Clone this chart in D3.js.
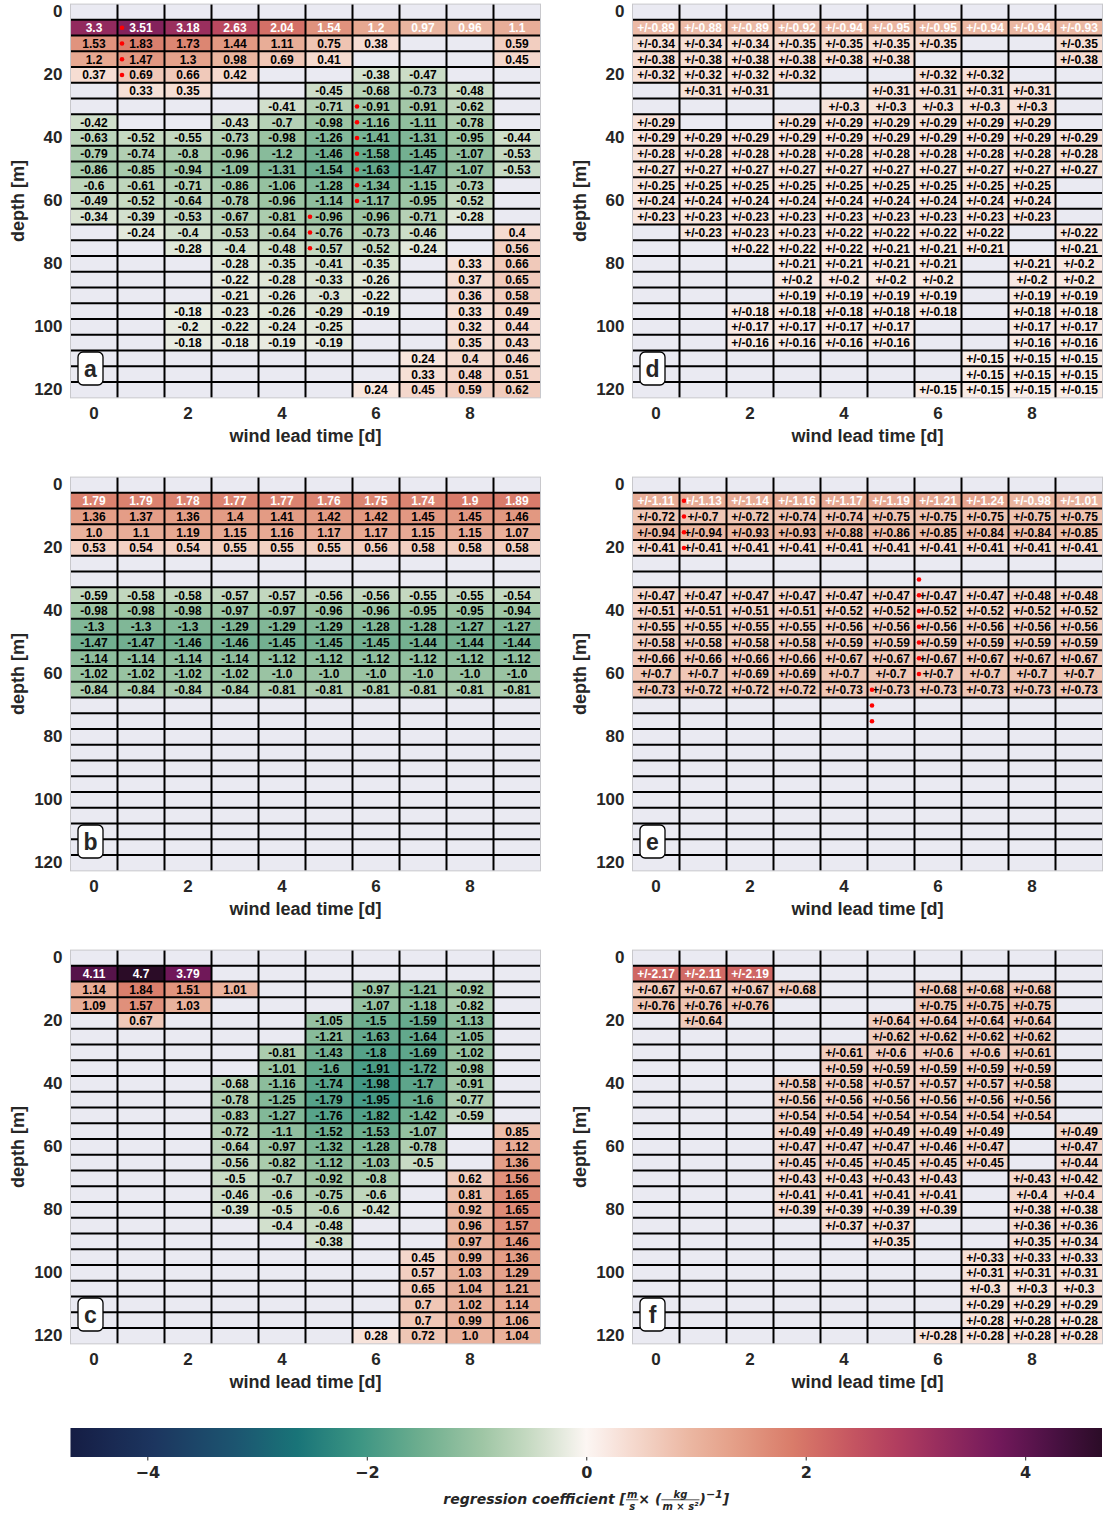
<!DOCTYPE html>
<html>
<head>
<meta charset="utf-8">
<script src="https://cdn.jsdelivr.net/npm/d3@7"></script>
<style>
  body { margin: 0; background: #fff; }
  svg { display: block; }
  text { font-family: "Liberation Sans", Arial, sans-serif; font-weight: bold; }
  .dv text { font-family: "DejaVu Sans", sans-serif; }
</style>
</head>
<body>
<div id="chart"></div>
<script>
// data; _ = masked (not significant) cell
const _ = null;
const depths = d3.range(0, 125, 5);      // 0 .. 120 m
const leadTimes = d3.range(0, 10);       // 0 .. 9 d
const xTicks = [0, 2, 4, 6, 8];
const yTicks = [0, 20, 40, 60, 80, 100, 120];
const cbarTicks = [-4, -2, 0, 2, 4];
const panelTags = ["a", "b", "c", "d", "e", "f"];

const coefA = [
  [_,_,_,_,_,_,_,_,_,_],
  [3.3,3.51,3.18,2.63,2.04,1.54,1.2,0.97,0.96,1.1],
  [1.53,1.83,1.73,1.44,1.11,0.75,0.38,_,_,0.59],
  [1.2,1.47,1.3,0.98,0.69,0.41,_,_,_,0.45],
  [0.37,0.69,0.66,0.42,_,_,-0.38,-0.47,_,_],
  [_,0.33,0.35,_,_,-0.45,-0.68,-0.73,-0.48,_],
  [_,_,_,_,-0.41,-0.71,-0.91,-0.91,-0.62,_],
  [-0.42,_,_,-0.43,-0.7,-0.98,-1.16,-1.11,-0.78,_],
  [-0.63,-0.52,-0.55,-0.73,-0.98,-1.26,-1.41,-1.31,-0.95,-0.44],
  [-0.79,-0.74,-0.8,-0.96,-1.2,-1.46,-1.58,-1.45,-1.07,-0.53],
  [-0.86,-0.85,-0.94,-1.09,-1.31,-1.54,-1.63,-1.47,-1.07,-0.53],
  [-0.6,-0.61,-0.71,-0.86,-1.06,-1.28,-1.34,-1.15,-0.73,_],
  [-0.49,-0.52,-0.64,-0.78,-0.96,-1.14,-1.17,-0.95,-0.52,_],
  [-0.34,-0.39,-0.53,-0.67,-0.81,-0.96,-0.96,-0.71,-0.28,_],
  [_,-0.24,-0.4,-0.53,-0.64,-0.76,-0.73,-0.46,_,0.4],
  [_,_,-0.28,-0.4,-0.48,-0.57,-0.52,-0.24,_,0.56],
  [_,_,_,-0.28,-0.35,-0.41,-0.35,_,0.33,0.66],
  [_,_,_,-0.22,-0.28,-0.33,-0.26,_,0.37,0.65],
  [_,_,_,-0.21,-0.26,-0.3,-0.22,_,0.36,0.58],
  [_,_,-0.18,-0.23,-0.26,-0.29,-0.19,_,0.33,0.49],
  [_,_,-0.2,-0.22,-0.24,-0.25,_,_,0.32,0.44],
  [_,_,-0.18,-0.18,-0.19,-0.19,_,_,0.35,0.43],
  [_,_,_,_,_,_,_,0.24,0.4,0.46],
  [_,_,_,_,_,_,_,0.33,0.48,0.51],
  [_,_,_,_,_,_,0.24,0.45,0.59,0.62]
];

const coefB = [
  [_,_,_,_,_,_,_,_,_,_],
  [1.79,1.79,1.78,1.77,1.77,1.76,1.75,1.74,1.9,1.89],
  [1.36,1.37,1.36,1.4,1.41,1.42,1.42,1.45,1.45,1.46],
  [1.0,1.1,1.19,1.15,1.16,1.17,1.17,1.15,1.15,1.07],
  [0.53,0.54,0.54,0.55,0.55,0.55,0.56,0.58,0.58,0.58],
  [_,_,_,_,_,_,_,_,_,_],
  [_,_,_,_,_,_,_,_,_,_],
  [-0.59,-0.58,-0.58,-0.57,-0.57,-0.56,-0.56,-0.55,-0.55,-0.54],
  [-0.98,-0.98,-0.98,-0.97,-0.97,-0.96,-0.96,-0.95,-0.95,-0.94],
  [-1.3,-1.3,-1.3,-1.29,-1.29,-1.29,-1.28,-1.28,-1.27,-1.27],
  [-1.47,-1.47,-1.46,-1.46,-1.45,-1.45,-1.45,-1.44,-1.44,-1.44],
  [-1.14,-1.14,-1.14,-1.14,-1.12,-1.12,-1.12,-1.12,-1.12,-1.12],
  [-1.02,-1.02,-1.02,-1.02,-1.0,-1.0,-1.0,-1.0,-1.0,-1.0],
  [-0.84,-0.84,-0.84,-0.84,-0.81,-0.81,-0.81,-0.81,-0.81,-0.81],
  [_,_,_,_,_,_,_,_,_,_],
  [_,_,_,_,_,_,_,_,_,_],
  [_,_,_,_,_,_,_,_,_,_],
  [_,_,_,_,_,_,_,_,_,_],
  [_,_,_,_,_,_,_,_,_,_],
  [_,_,_,_,_,_,_,_,_,_],
  [_,_,_,_,_,_,_,_,_,_],
  [_,_,_,_,_,_,_,_,_,_],
  [_,_,_,_,_,_,_,_,_,_],
  [_,_,_,_,_,_,_,_,_,_],
  [_,_,_,_,_,_,_,_,_,_]
];

const coefC = [
  [_,_,_,_,_,_,_,_,_,_],
  [4.11,4.7,3.79,_,_,_,_,_,_,_],
  [1.14,1.84,1.51,1.01,_,_,-0.97,-1.21,-0.92,_],
  [1.09,1.57,1.03,_,_,_,-1.07,-1.18,-0.82,_],
  [_,0.67,_,_,_,-1.05,-1.5,-1.59,-1.13,_],
  [_,_,_,_,_,-1.21,-1.63,-1.64,-1.05,_],
  [_,_,_,_,-0.81,-1.43,-1.8,-1.69,-1.02,_],
  [_,_,_,_,-1.01,-1.6,-1.91,-1.72,-0.98,_],
  [_,_,_,-0.68,-1.16,-1.74,-1.98,-1.7,-0.91,_],
  [_,_,_,-0.78,-1.25,-1.79,-1.95,-1.6,-0.77,_],
  [_,_,_,-0.83,-1.27,-1.76,-1.82,-1.42,-0.59,_],
  [_,_,_,-0.72,-1.1,-1.52,-1.53,-1.07,_,0.85],
  [_,_,_,-0.64,-0.97,-1.32,-1.28,-0.78,_,1.12],
  [_,_,_,-0.56,-0.82,-1.12,-1.03,-0.5,_,1.36],
  [_,_,_,-0.5,-0.7,-0.92,-0.8,_,0.62,1.56],
  [_,_,_,-0.46,-0.6,-0.75,-0.6,_,0.81,1.65],
  [_,_,_,-0.39,-0.5,-0.6,-0.42,_,0.92,1.65],
  [_,_,_,_,-0.4,-0.48,_,_,0.96,1.57],
  [_,_,_,_,_,-0.38,_,_,0.97,1.46],
  [_,_,_,_,_,_,_,0.45,0.99,1.36],
  [_,_,_,_,_,_,_,0.57,1.03,1.29],
  [_,_,_,_,_,_,_,0.65,1.04,1.21],
  [_,_,_,_,_,_,_,0.7,1.02,1.14],
  [_,_,_,_,_,_,_,0.7,0.99,1.06],
  [_,_,_,_,_,_,0.28,0.72,1.0,1.04]
];

// uncertainties (shown as +/-), same masks as a/b/c
const uncD = [
  [_,_,_,_,_,_,_,_,_,_],
  [0.89,0.88,0.89,0.92,0.94,0.95,0.95,0.94,0.94,0.93],
  [0.34,0.34,0.34,0.35,0.35,0.35,0.35,_,_,0.35],
  [0.38,0.38,0.38,0.38,0.38,0.38,_,_,_,0.38],
  [0.32,0.32,0.32,0.32,_,_,0.32,0.32,_,_],
  [_,0.31,0.31,_,_,0.31,0.31,0.31,0.31,_],
  [_,_,_,_,0.3,0.3,0.3,0.3,0.3,_],
  [0.29,_,_,0.29,0.29,0.29,0.29,0.29,0.29,_],
  [0.29,0.29,0.29,0.29,0.29,0.29,0.29,0.29,0.29,0.29],
  [0.28,0.28,0.28,0.28,0.28,0.28,0.28,0.28,0.28,0.28],
  [0.27,0.27,0.27,0.27,0.27,0.27,0.27,0.27,0.27,0.27],
  [0.25,0.25,0.25,0.25,0.25,0.25,0.25,0.25,0.25,_],
  [0.24,0.24,0.24,0.24,0.24,0.24,0.24,0.24,0.24,_],
  [0.23,0.23,0.23,0.23,0.23,0.23,0.23,0.23,0.23,_],
  [_,0.23,0.23,0.23,0.22,0.22,0.22,0.22,_,0.22],
  [_,_,0.22,0.22,0.22,0.21,0.21,0.21,_,0.21],
  [_,_,_,0.21,0.21,0.21,0.21,_,0.21,0.2],
  [_,_,_,0.2,0.2,0.2,0.2,_,0.2,0.2],
  [_,_,_,0.19,0.19,0.19,0.19,_,0.19,0.19],
  [_,_,0.18,0.18,0.18,0.18,0.18,_,0.18,0.18],
  [_,_,0.17,0.17,0.17,0.17,_,_,0.17,0.17],
  [_,_,0.16,0.16,0.16,0.16,_,_,0.16,0.16],
  [_,_,_,_,_,_,_,0.15,0.15,0.15],
  [_,_,_,_,_,_,_,0.15,0.15,0.15],
  [_,_,_,_,_,_,0.15,0.15,0.15,0.15]
];

const uncE = [
  [_,_,_,_,_,_,_,_,_,_],
  [1.11,1.13,1.14,1.16,1.17,1.19,1.21,1.24,0.98,1.01],
  [0.72,0.7,0.72,0.74,0.74,0.75,0.75,0.75,0.75,0.75],
  [0.94,0.94,0.93,0.93,0.88,0.86,0.85,0.84,0.84,0.85],
  [0.41,0.41,0.41,0.41,0.41,0.41,0.41,0.41,0.41,0.41],
  [_,_,_,_,_,_,_,_,_,_],
  [_,_,_,_,_,_,_,_,_,_],
  [0.47,0.47,0.47,0.47,0.47,0.47,0.47,0.47,0.48,0.48],
  [0.51,0.51,0.51,0.51,0.52,0.52,0.52,0.52,0.52,0.52],
  [0.55,0.55,0.55,0.55,0.56,0.56,0.56,0.56,0.56,0.56],
  [0.58,0.58,0.58,0.58,0.59,0.59,0.59,0.59,0.59,0.59],
  [0.66,0.66,0.66,0.66,0.67,0.67,0.67,0.67,0.67,0.67],
  [0.7,0.7,0.69,0.69,0.7,0.7,0.7,0.7,0.7,0.7],
  [0.73,0.72,0.72,0.72,0.73,0.73,0.73,0.73,0.73,0.73],
  [_,_,_,_,_,_,_,_,_,_],
  [_,_,_,_,_,_,_,_,_,_],
  [_,_,_,_,_,_,_,_,_,_],
  [_,_,_,_,_,_,_,_,_,_],
  [_,_,_,_,_,_,_,_,_,_],
  [_,_,_,_,_,_,_,_,_,_],
  [_,_,_,_,_,_,_,_,_,_],
  [_,_,_,_,_,_,_,_,_,_],
  [_,_,_,_,_,_,_,_,_,_],
  [_,_,_,_,_,_,_,_,_,_],
  [_,_,_,_,_,_,_,_,_,_]
];

const uncF = [
  [_,_,_,_,_,_,_,_,_,_],
  [2.17,2.11,2.19,_,_,_,_,_,_,_],
  [0.67,0.67,0.67,0.68,_,_,0.68,0.68,0.68,_],
  [0.76,0.76,0.76,_,_,_,0.75,0.75,0.75,_],
  [_,0.64,_,_,_,0.64,0.64,0.64,0.64,_],
  [_,_,_,_,_,0.62,0.62,0.62,0.62,_],
  [_,_,_,_,0.61,0.6,0.6,0.6,0.61,_],
  [_,_,_,_,0.59,0.59,0.59,0.59,0.59,_],
  [_,_,_,0.58,0.58,0.57,0.57,0.57,0.58,_],
  [_,_,_,0.56,0.56,0.56,0.56,0.56,0.56,_],
  [_,_,_,0.54,0.54,0.54,0.54,0.54,0.54,_],
  [_,_,_,0.49,0.49,0.49,0.49,0.49,_,0.49],
  [_,_,_,0.47,0.47,0.47,0.46,0.47,_,0.47],
  [_,_,_,0.45,0.45,0.45,0.45,0.45,_,0.44],
  [_,_,_,0.43,0.43,0.43,0.43,_,0.43,0.42],
  [_,_,_,0.41,0.41,0.41,0.41,_,0.4,0.4],
  [_,_,_,0.39,0.39,0.39,0.39,_,0.38,0.38],
  [_,_,_,_,0.37,0.37,_,_,0.36,0.36],
  [_,_,_,_,_,0.35,_,_,0.35,0.34],
  [_,_,_,_,_,_,_,0.33,0.33,0.33],
  [_,_,_,_,_,_,_,0.31,0.31,0.31],
  [_,_,_,_,_,_,_,0.3,0.3,0.3],
  [_,_,_,_,_,_,_,0.29,0.29,0.29],
  [_,_,_,_,_,_,_,0.28,0.28,0.28],
  [_,_,_,_,_,_,0.28,0.28,0.28,0.28]
];

// red markers: [lead time, depth]
const markA = [[1,5],[1,10],[1,15],[1,20],[6,30],[6,35],[6,40],[6,45],[6,50],[6,55],[6,60],[5,65],[5,70],[5,75]];
const markE = [[1,5],[1,10],[1,15],[1,20],[6,30],[6,35],[6,40],[6,45],[6,50],[6,55],[6,60],[5,65],[5,70],[5,75]];

// approximation of the cmocean "curl" map, t in [0,1]
const curlStops = [
  [0.00, "#151d44"], [0.08, "#1c355f"], [0.16, "#1c5570"], [0.22, "#197478"],
  [0.28, "#3c9583"], [0.34, "#6eae8f"], [0.40, "#9fc6a5"], [0.45, "#cbdcc6"],
  [0.50, "#fcf6f3"], [0.55, "#f4d6ca"], [0.60, "#ebb7a2"], [0.65, "#e39b84"],
  [0.70, "#d97c6a"], [0.75, "#c95a61"], [0.80, "#b23e5f"], [0.85, "#932a5e"],
  [0.90, "#72195a"], [0.95, "#4c1145"], [1.00, "#2b0c27"]
];

const vmax = 4.7;
const color = d3.scaleLinear()
  .domain(curlStops.map(function(s) { return -vmax + 2 * vmax * s[0]; }))
  .range(curlStops.map(function(s) { return s[1]; }))
  .interpolate(d3.interpolateRgb)
  .clamp(true);

var width = 1110, height = 1521;
var cellW = 47, rowH = 15.75;
var plotW = cellW * leadTimes.length, plotH = rowH * depths.length;
var lefts = [70.5, 632.5], tops = [4.1, 477.1, 950.1];
var textGray = "#262626";

var svg = d3.select("#chart").append("svg")
  .attr("width", width)
  .attr("height", height);

var panels = [
  {tag: panelTags[0], data: coefA, pm: false, marks: markA, left: lefts[0], top: tops[0]},
  {tag: panelTags[1], data: coefB, pm: false, marks: [],    left: lefts[0], top: tops[1]},
  {tag: panelTags[2], data: coefC, pm: false, marks: [],    left: lefts[0], top: tops[2]},
  {tag: panelTags[3], data: uncD,  pm: true,  marks: [],    left: lefts[1], top: tops[0]},
  {tag: panelTags[4], data: uncE,  pm: true,  marks: markE, left: lefts[1], top: tops[1]},
  {tag: panelTags[5], data: uncF,  pm: true,  marks: [],    left: lefts[1], top: tops[2]}
];

function fmt(v) {
  return Number.isInteger(v) ? v.toFixed(1) : String(v);
}

function drawPanel(p) {
  var x = d3.scaleBand().domain(leadTimes).range([p.left, p.left + plotW]);
  var y = d3.scaleBand().domain(depths).range([p.top, p.top + plotH]);
  var g = svg.append("g");

  g.append("rect")
    .attr("x", p.left).attr("y", p.top)
    .attr("width", plotW).attr("height", plotH)
    .attr("fill", "#eaeaf2");

  var cells = [];
  p.data.forEach(function(row, i) {
    row.forEach(function(v, j) {
      if (v !== null) cells.push({depth: depths[i], lead: leadTimes[j], v: v});
    });
  });

  g.selectAll(".cell").data(cells).enter().append("rect")
    .attr("x", function(d) { return x(d.lead); })
    .attr("y", function(d) { return y(d.depth); })
    .attr("width", x.bandwidth())
    .attr("height", y.bandwidth())
    .attr("fill", function(d) { return color(d.v); });

  // black grid between cells
  g.selectAll(".vline").data(leadTimes.slice(1)).enter().append("line")
    .attr("x1", function(d) { return x(d); }).attr("x2", function(d) { return x(d); })
    .attr("y1", p.top).attr("y2", p.top + plotH)
    .attr("stroke", "#000").attr("stroke-width", 2);
  g.selectAll(".hline").data(depths.slice(1)).enter().append("line")
    .attr("y1", function(d) { return y(d); }).attr("y2", function(d) { return y(d); })
    .attr("x1", p.left).attr("x2", p.left + plotW)
    .attr("stroke", "#000").attr("stroke-width", 2);

  g.append("rect")
    .attr("x", p.left).attr("y", p.top)
    .attr("width", plotW).attr("height", plotH)
    .attr("fill", "none").attr("stroke", "#c8c8cc").attr("stroke-width", 1);

  g.selectAll(".ann").data(cells).enter().append("text")
    .attr("x", function(d) { return x(d.lead) + x.bandwidth() / 2; })
    .attr("y", function(d) { return y(d.depth) + y.bandwidth() / 2; })
    .attr("dy", "0.36em")
    .attr("text-anchor", "middle")
    .attr("font-size", 12)
    .attr("fill", function(d) { return d.depth === depths[1] ? "#fff" : "#000"; })
    .text(function(d) { return (p.pm ? "+/-" : "") + fmt(d.v); });

  g.selectAll(".mark").data(p.marks).enter().append("circle")
    .attr("cx", function(d) { return x(d[0]) + 4.5; })
    .attr("cy", function(d) { return y(d[1]) + y.bandwidth() / 2; })
    .attr("r", 2.3)
    .attr("fill", "#ff0000");

  // axes
  var yAxis = g.append("g")
    .attr("transform", "translate(" + p.left + ",0)")
    .call(d3.axisLeft(y).tickValues(yTicks).tickSize(0).tickPadding(8));
  var xAxis = g.append("g")
    .attr("transform", "translate(0," + (p.top + plotH) + ")")
    .call(d3.axisBottom(x).tickValues(xTicks).tickSize(0).tickPadding(9));
  [xAxis, yAxis].forEach(function(a) {
    a.select(".domain").remove();
    a.selectAll("text")
      .attr("font-size", 17)
      .attr("fill", textGray);
  });

  g.append("text")
    .attr("x", p.left + plotW / 2)
    .attr("y", p.top + plotH + 44)
    .attr("text-anchor", "middle")
    .attr("font-size", 18)
    .attr("fill", textGray)
    .text("wind lead time [d]");

  g.append("text")
    .attr("transform", "translate(" + (p.left - 47) + "," + (p.top + plotH / 2) + ") rotate(-90)")
    .attr("text-anchor", "middle")
    .attr("font-size", 18)
    .attr("fill", textGray)
    .text("depth [m]");

  // panel letter box
  var bx = p.left + 20, by = p.top + 364.4;
  g.append("rect")
    .attr("x", bx - 12.5).attr("y", by - 16.5)
    .attr("width", 25).attr("height", 33)
    .attr("rx", 5)
    .attr("fill", "#fff").attr("stroke", "#000").attr("stroke-width", 1.3);
  g.append("text")
    .attr("x", bx).attr("y", by)
    .attr("dy", "0.36em")
    .attr("text-anchor", "middle")
    .attr("font-size", 23)
    .attr("fill", textGray)
    .text(p.tag);
}

panels.forEach(drawPanel);

// colour bar
var cbX0 = 70.5, cbX1 = 1102, cbY = 1428, cbH = 29;
var cx = d3.scaleLinear().domain([-vmax, vmax]).range([cbX0, cbX1]);

var grad = svg.append("defs").append("linearGradient")
  .attr("id", "curl").attr("x1", "0%").attr("x2", "100%");
d3.range(0, 1.0001, 0.02).forEach(function(t) {
  grad.append("stop")
    .attr("offset", (t * 100) + "%")
    .attr("stop-color", color(-vmax + 2 * vmax * t));
});
svg.append("rect")
  .attr("x", cbX0).attr("y", cbY)
  .attr("width", cbX1 - cbX0).attr("height", cbH)
  .attr("fill", "url(#curl)");

var cbAxis = svg.append("g")
  .attr("class", "dv")
  .attr("transform", "translate(0," + (cbY + cbH) + ")")
  .call(d3.axisBottom(cx).tickValues(cbarTicks).tickSize(3.5).tickPadding(6)
    .tickFormat(function(d) { return d < 0 ? "\u2212" + Math.abs(d) : String(d); }));
cbAxis.select(".domain").remove();
cbAxis.selectAll("line").attr("stroke", textGray);
cbAxis.selectAll("text")
  .attr("font-size", 16)
  .attr("fill", textGray);

// colour bar label with small stacked fractions
(function() {
  var lab = svg.append("g")
    .attr("class", "dv")
    .style("font-style", "italic")
    .attr("fill", textGray);
  var base = 1504, pos = 0;
  function word(t, size, dy) {
    var el = lab.append("text").attr("x", pos).attr("y", base + (dy || 0))
      .attr("font-size", size).text(t);
    pos += el.node().getComputedTextLength();
  }
  function frac(num, den) {
    var n = lab.append("text").attr("y", base - 6).attr("font-size", 10)
      .attr("text-anchor", "middle").text(num);
    var d = lab.append("text").attr("y", base + 6).attr("font-size", 10)
      .attr("text-anchor", "middle").text(den);
    var w = Math.max(n.node().getComputedTextLength(), d.node().getComputedTextLength()) + 2;
    n.attr("x", pos + w / 2);
    d.attr("x", pos + w / 2);
    lab.append("line")
      .attr("x1", pos).attr("x2", pos + w)
      .attr("y1", base - 4.2).attr("y2", base - 4.2)
      .attr("stroke", textGray).attr("stroke-width", 0.8);
    pos += w;
  }
  word("regression coefficient [", 14);
  frac("m", "s");
  word(" \u00d7 (", 14);
  frac("kg", "m \u00d7 s\u00b2");
  word(")", 14);
  word("\u22121", 11, -6);
  word("]", 14);
  lab.attr("transform", "translate(" + (cx(0) - pos / 2) + ",0)");
})();
</script>
</body>
</html>
